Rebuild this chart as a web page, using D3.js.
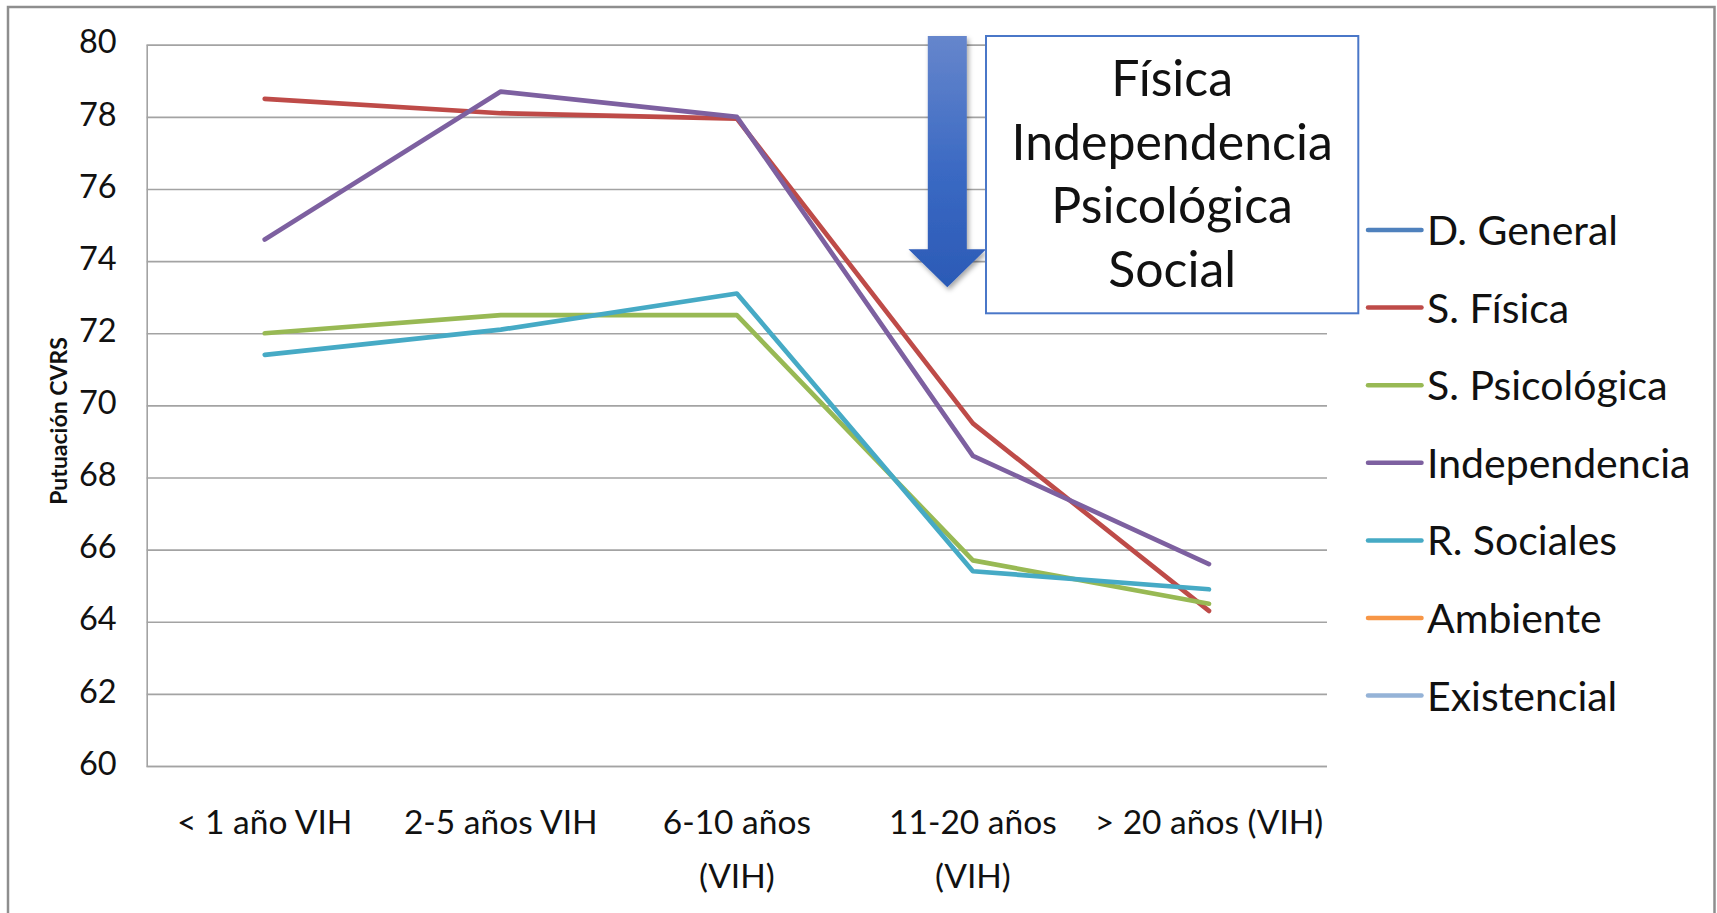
<!DOCTYPE html>
<html><head><meta charset="utf-8">
<script src="https://cdn.jsdelivr.net/npm/d3@7"></script>
<style>
html,body{margin:0;padding:0;background:#fff;}
svg{display:block;font-family:Lato,"Open Sans",sans-serif;}
</style>
</head><body>
<svg id="chart" width="1717" height="913"></svg>
<script>
// ---- data ----
const categories = ["< 1 año VIH", "2-5 años VIH", "6-10 años\n(VIH)", "11-20 años\n(VIH)", "> 20 años (VIH)"];
const seriesNames = ["D. General", "S. Física", "S. Psicológica", "Independencia", "R. Sociales", "Ambiente", "Existencial"];
const seriesColors = ["#4F81BD", "#BE4B48", "#98B954", "#7D60A0", "#46AAC5", "#F79646", "#95B3D7"];
const dGeneral      = [null, null, null, null, null];
const sFisica       = [78.5, 78.1, 77.95, 69.5, 64.3];
const sPsicologica  = [72.0, 72.5, 72.5, 65.7, 64.5];
const independencia = [74.6, 78.7, 78.0, 68.6, 65.6];
const rSociales     = [71.4, 72.1, 73.1, 65.4, 64.9];
const ambiente      = [null, null, null, null, null];
const existencial   = [null, null, null, null, null];
const yTicks = [60, 62, 64, 66, 68, 70, 72, 74, 76, 78, 80];
const yTitle = "Putuación CVRS";
const boxLines = ["Física", "Independencia", "Psicológica", "Social"];

const seriesValues = [dGeneral, sFisica, sPsicologica, independencia, rSociales, ambiente, existencial];
const series = seriesNames.map((n, i) => ({name: n, color: seriesColors[i], values: seriesValues[i]}));

// ---- layout ----
const plot = {left: 146.7, right: 1327, top: 44.7, bottom: 766};
const svg = d3.select("#chart");

// outer frame
svg.append("rect").attr("x", 8).attr("y", 7).attr("width", 1706.5).attr("height", 940)
  .attr("fill", "#fff").attr("stroke", "#8e8e8e").attr("stroke-width", 2.5);

const x = d3.scaleBand().domain(categories).range([plot.left, plot.right]).padding(0);
const xc = c => x(c) + x.bandwidth() / 2;
const y = d3.scaleLinear().domain([60, 80]).range([plot.bottom, plot.top]);

// gridlines + y axis
const yAxis = d3.axisLeft(y).tickValues(yTicks).tickSize(-(plot.right - plot.left)).tickFormat(d3.format("d")).tickPadding(30);
const gy = svg.append("g").attr("transform", `translate(${plot.left},0)`).call(yAxis);
gy.select(".domain").attr("stroke", "#a3a3a3").attr("stroke-width", 1.6);
gy.selectAll(".tick line").attr("stroke", "#a3a3a3").attr("stroke-width", 1.6);
gy.selectAll(".tick text").attr("font-size", 32.5).attr("fill", "#111").attr("font-family", "Lato")
  .attr("dy", null).attr("dominant-baseline", "middle");

// x axis labels
const xAxis = d3.axisBottom(x).tickSize(0).tickFormat("");
const gx = svg.append("g").attr("transform", `translate(0,${plot.bottom})`).call(xAxis);
gx.select(".domain").remove();
gx.selectAll(".tick").each(function(d) {
  const lines = d.split("\n");
  const t = d3.select(this).append("text").attr("text-anchor", "middle").attr("font-size", 33.5)
    .attr("fill", "#111").attr("font-family", "Lato");
  lines.forEach((l, i) => t.append("tspan").attr("x", 0).attr("y", 68 + i * 54).text(l));
});

// y title
svg.append("text").attr("transform", `translate(67,421) rotate(-90)`).attr("text-anchor", "middle")
  .attr("font-size", 23).attr("font-weight", "bold").attr("fill", "#111").attr("font-family", "Lato")
  .text(yTitle);

// lines
const line = d3.line().defined(d => d.v != null).x(d => xc(d.c)).y(d => y(d.v));
svg.append("g").selectAll("path").data(series).join("path")
  .attr("d", s => line(s.values.map((v, i) => ({c: categories[i], v}))))
  .attr("fill", "none").attr("stroke", s => s.color).attr("stroke-width", 4.7)
  .attr("stroke-linejoin", "round").attr("stroke-linecap", "round");

// arrow annotation
const defs = svg.append("defs");
const grad = defs.append("linearGradient").attr("id", "ag").attr("x1", 0).attr("y1", 0).attr("x2", 0).attr("y2", 1);
grad.append("stop").attr("offset", "0%").attr("stop-color", "#6686CC");
grad.append("stop").attr("offset", "55%").attr("stop-color", "#3A69C3");
grad.append("stop").attr("offset", "100%").attr("stop-color", "#2B5AB6");
const f = defs.append("filter").attr("id", "sh").attr("x", "-30%").attr("y", "-10%").attr("width", "160%").attr("height", "130%");
f.append("feDropShadow").attr("dx", 2).attr("dy", 3).attr("stdDeviation", 2.5).attr("flood-color", "#000").attr("flood-opacity", 0.35);
const ax = 947.3, shaftHalf = 19.5, headHalf = 38.8, topY = 36, headY = 249.3, tipY = 287.3;
svg.append("path")
  .attr("d", `M${ax - shaftHalf},${topY} L${ax + shaftHalf},${topY} L${ax + shaftHalf},${headY} L${ax + headHalf},${headY} L${ax},${tipY} L${ax - headHalf},${headY} L${ax - shaftHalf},${headY} Z`)
  .attr("fill", "url(#ag)").attr("filter", "url(#sh)");

// text box
const box = {x: 986, y: 36, w: 372.3, h: 277.3};
svg.append("rect").attr("x", box.x).attr("y", box.y).attr("width", box.w).attr("height", box.h)
  .attr("fill", "#fff").attr("stroke", "#4A77C8").attr("stroke-width", 2);
svg.append("g").selectAll("text").data(boxLines).join("text")
  .attr("x", box.x + box.w / 2).attr("y", (d, i) => 96 + i * 63.6)
  .attr("text-anchor", "middle").attr("font-size", 50).attr("fill", "#111").attr("font-family", "Lato")
  .text(d => d);

// legend
const lg = svg.append("g").selectAll("g").data(series).join("g")
  .attr("transform", (d, i) => `translate(0,${230 + i * 77.6})`);
lg.append("line").attr("x1", 1368).attr("x2", 1421.5).attr("y1", 0).attr("y2", 0)
  .attr("stroke", d => d.color).attr("stroke-width", 4.5).attr("stroke-linecap", "round");
lg.append("text").attr("x", 1427).attr("y", 15).attr("font-size", 41).attr("fill", "#111")
  .attr("font-family", "Lato").text(d => d.name);
</script>
</body></html>
